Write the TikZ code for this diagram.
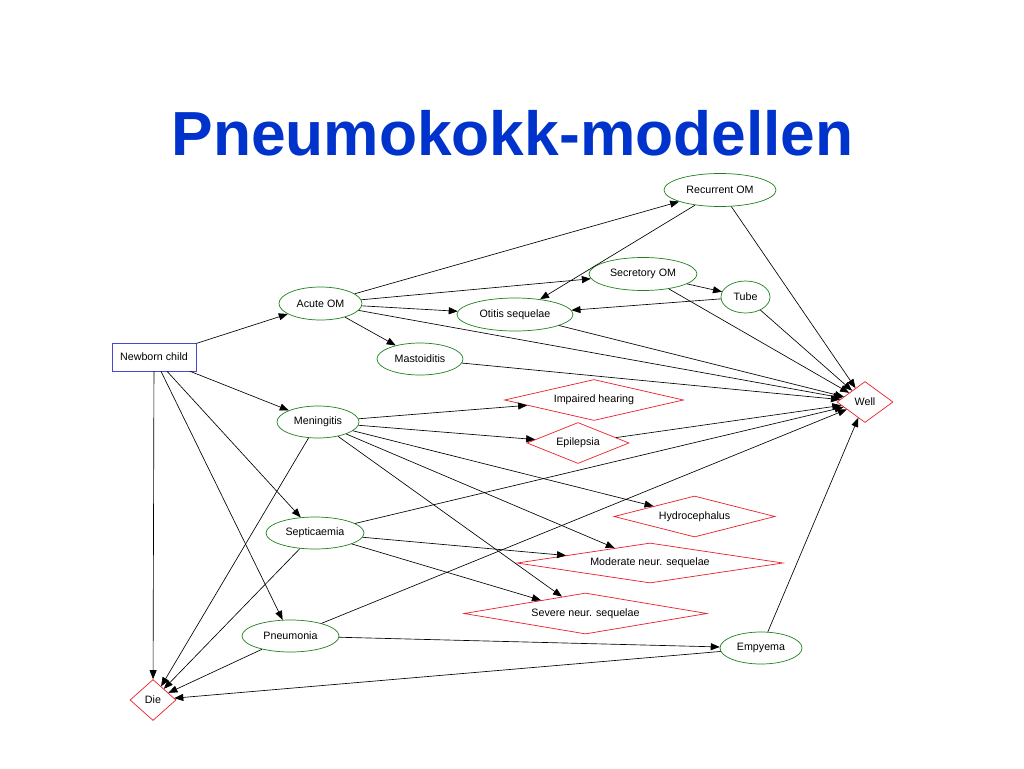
\documentclass[tikz,border=0pt]{standalone}
\usepackage{fontspec}
\setmainfont{Liberation Sans}
\usetikzlibrary{shapes.geometric,arrows.meta}
\definecolor{titleblue}{RGB}{0,51,204}
\definecolor{boxblue}{RGB}{70,70,210}
\definecolor{ellgreen}{RGB}{30,130,30}
\definecolor{diared}{RGB}{235,30,40}
\begin{document}
\begin{tikzpicture}[x=1pt,y=-1pt,
  lbl/.style={font=\fontsize{10.7}{12}\selectfont,inner sep=0pt},
  ell/.style={lbl,ellipse,draw=ellgreen,line width=0.7pt},
  dia/.style={lbl,diamond,draw=diared,line width=0.7pt},
  rbox/.style={lbl,rectangle,draw=boxblue,line width=0.7pt},
  arr/.style={-{Triangle[length=9pt,width=7pt]},line width=0.65pt}
]
\useasboundingbox[fill=white] (0,0) rectangle (1024,768);
\node[anchor=base,text=titleblue,font=\fontsize{62.3}{70}\selectfont\bfseries,inner sep=0pt] (title) at (512.5,155) {Pneumokokk-modellen};

\node[rbox,minimum width=84pt,minimum height=28pt] (nb) at (154,357) {Newborn child};
\node[ell,minimum width=83pt,minimum height=33pt] (aom) at (320.5,303.5) {Acute OM};
\node[ell,minimum width=86pt,minimum height=32pt] (mas) at (420,359) {Mastoiditis};
\node[ell,minimum width=112pt,minimum height=33pt] (rom) at (720,190) {Recurrent OM};
\node[ell,minimum width=108pt,minimum height=33pt] (som) at (643,274) {Secretory OM};
\node[ell,minimum width=49pt,minimum height=32pt] (tub) at (745.5,297) {Tube};
\node[ell,minimum width=116pt,minimum height=33pt] (ots) at (515,314.5) {Otitis sequelae};
\node[ell,minimum width=82pt,minimum height=32pt] (men) at (318,422) {Meningitis};
\node[ell,minimum width=98pt,minimum height=32pt] (sep) at (315,533) {Septicaemia};
\node[ell,minimum width=97pt,minimum height=32pt] (pne) at (290.5,636) {Pneumonia};
\node[ell,minimum width=82pt,minimum height=32pt] (emp) at (761,648) {Empyema};

\node[dia,minimum width=56pt,minimum height=41pt,aspect=1.37] (well) at (865,402) {Well};
\node[dia,minimum width=46pt,minimum height=41pt,aspect=1.12] (die) at (153,700) {Die};
\node[dia,minimum width=179pt,minimum height=41pt,aspect=4.37] (imp) at (594,400) {Impaired hearing};
\node[dia,minimum width=102pt,minimum height=41pt,aspect=2.49] (epi) at (578,443) {Epilepsia};
\node[dia,minimum width=161pt,minimum height=41pt,aspect=3.93] (hyd) at (694.5,516.5) {Hydrocephalus};
\node[dia,minimum width=266pt,minimum height=40pt,aspect=6.65] (mod) at (650,563) {Moderate neur. sequelae};
\node[dia,minimum width=243pt,minimum height=41pt,aspect=5.93] (sev) at (585.5,613.5) {Severe neur. sequelae};

\draw[arr] (nb) -- (aom);
\draw[arr] (nb) -- (men);
\draw[arr] (nb) -- (sep);
\draw[arr] (nb) -- (pne);
\draw[arr] (nb) -- (die);
\draw[arr] (aom) -- (rom);
\draw[arr] (aom) -- (som);
\draw[arr] (aom) -- (ots);
\draw[arr] (aom) -- (mas);
\draw[arr] (aom) -- (well);
\draw[arr] (rom) -- (ots);
\draw[arr] (rom) -- (well);
\draw[arr] (som) -- (tub);
\draw[arr] (som) -- (well);
\draw[arr] (tub) -- (ots);
\draw[arr] (tub) -- (well);
\draw[arr] (ots) -- (well);
\draw[arr] (mas) -- (well);
\draw[arr] (men) -- (imp);
\draw[arr] (men) -- (epi);
\draw[arr] (men) -- (hyd);
\draw[arr] (men) -- (mod);
\draw[arr] (men) -- (sev);
\draw[arr] (men) -- (die);
\draw[arr] (epi) -- (well);
\draw[arr] (sep) -- (well);
\draw[arr] (sep) -- (mod);
\draw[arr] (sep) -- (sev);
\draw[arr] (sep) -- (die);
\draw[arr] (pne) -- (well);
\draw[arr] (pne) -- (emp);
\draw[arr] (pne) -- (die);
\draw[arr] (emp) -- (well);
\draw[arr] (emp) -- (die);
\end{tikzpicture}
\end{document}
